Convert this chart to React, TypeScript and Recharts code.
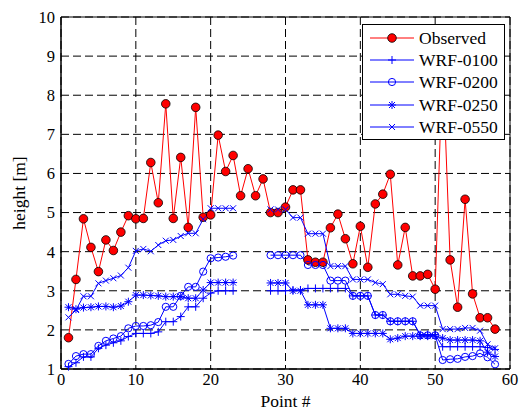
import React from 'react';
import { LineChart, Line, XAxis, YAxis, CartesianGrid, Legend, ReferenceArea } from 'recharts';

// point # 1..58 ; WRF runs have no values for points 24-27
const observed = [
  1.8, 3.29, 4.84, 4.11, 3.49, 4.3, 4.03, 4.5, 4.92, 4.84,
  4.85, 6.28, 5.25, 7.78, 4.85, 6.41, 4.62, 7.69, 4.88, 4.94,
  6.98, 6.05, 6.46, 5.43, 6.12, 5.43, 5.86, 5.0, 5.0, 5.14,
  5.58, 5.58, 3.79, 3.73, 3.73, 4.61, 4.96, 4.33, 3.69, 4.65,
  3.6, 5.22, 5.47, 5.98, 3.66, 4.62, 3.38, 3.38, 3.42, 3.04,
  8.9, 3.79, 2.58, 5.34, 2.92, 2.31, 2.31, 2.02,
];
const wrf0100 = [
  1.06, 1.16, 1.31, 1.31, 1.53, 1.61, 1.67, 1.72, 1.83, 1.91,
  1.91, 1.91, 1.95, 2.21, 2.21, 2.34, 2.59, 2.59, 2.81, 2.94,
  3.0, 3.0, 3.0, null, null, null, null, 3.0, 3.0, 3.0,
  3.02, 3.02, 3.06, 3.06, 3.06, 3.06, 3.06, 3.06, 2.87, 2.87,
  2.87, 2.38, 2.38, 2.22, 2.22, 2.22, 2.22, 1.88, 1.88, 1.88,
  1.57, 1.57, 1.57, 1.57, 1.57, 1.57, 1.55, 1.5,
];
const wrf0200 = [
  1.13, 1.33, 1.38, 1.38, 1.59, 1.72, 1.78, 1.84, 2.04, 2.1,
  2.1, 2.12, 2.2, 2.59, 2.59, 2.87, 3.1, 3.1, 3.49, 3.83,
  3.85, 3.87, 3.9, null, null, null, null, 3.91, 3.91, 3.91,
  3.91, 3.91, 3.66, 3.66, 3.66, 3.26, 3.26, 3.26, 2.87, 2.87,
  2.87, 2.38, 2.38, 2.22, 2.22, 2.22, 2.22, 1.86, 1.86, 1.86,
  1.23, 1.25, 1.26, 1.31, 1.33, 1.4, 1.3, 1.12,
];
const wrf0250 = [
  2.58, 2.53, 2.57, 2.58, 2.6, 2.6, 2.58, 2.61, 2.72, 2.89,
  2.89, 2.88, 2.87, 2.85, 2.85, 2.85, 2.81, 2.81, 3.02, 3.21,
  3.21, 3.21, 3.21, null, null, null, null, 3.2, 3.2, 3.2,
  3.0, 3.0, 2.64, 2.64, 2.64, 2.04, 2.04, 2.04, 1.91, 1.91,
  1.91, 1.91, 1.91, 1.76, 1.79, 1.84, 1.84, 1.84, 1.84, 1.84,
  1.79, 1.74, 1.74, 1.74, 1.74, 1.72, 1.43, 1.32,
];
const wrf0550 = [
  2.32, 2.51, 2.86, 2.86, 3.19, 3.26, 3.32, 3.39, 3.59, 4.02,
  4.07, 4.01, 4.17, 4.28, 4.3, 4.4, 4.47, 4.47, 4.83, 5.11,
  5.11, 5.11, 5.11, null, null, null, null, 5.08, 5.08, 5.08,
  4.87, 4.87, 4.46, 4.46, 4.46, 3.63, 3.63, 3.63, 3.29, 3.29,
  3.29, 3.21, 3.17, 2.91, 2.91, 2.87, 2.85, 2.62, 2.62, 2.62,
  2.02, 2.02, 2.02, 2.05, 2.05, 1.98, 1.63, 1.53,
];

const xTicks = [0, 10, 20, 30, 40, 50, 60];
const yTicks = [1, 2, 3, 4, 5, 6, 7, 8, 9, 10];

const data = observed.map((v, i) => ({
  point: i + 1,
  observed: v,
  w0100: wrf0100[i],
  w0200: wrf0200[i],
  w0250: wrf0250[i],
  w0550: wrf0550[i],
}));

const FONT = '"Liberation Serif", "Times New Roman", serif';
const RED = '#ff0000';
const BLUE = '#0000ff';

const series = [
  { key: 'observed', name: 'Observed', kind: 'dot', color: RED },
  { key: 'w0100', name: 'WRF-0100', kind: 'plus', color: BLUE },
  { key: 'w0200', name: 'WRF-0200', kind: 'circle', color: BLUE },
  { key: 'w0250', name: 'WRF-0250', kind: 'star', color: BLUE },
  { key: 'w0550', name: 'WRF-0550', kind: 'cross', color: BLUE },
];

function Marker({ kind, cx, cy, color }: any) {
  if (kind === 'dot') {
    return <circle cx={cx} cy={cy} r={4.3} fill={color} stroke="#000" strokeWidth={0.8} />;
  }
  if (kind === 'circle') {
    return <circle cx={cx} cy={cy} r={3.6} fill="none" stroke={color} strokeWidth={1} />;
  }
  const s = 4;
  const c = 3;
  const plus = (
    <>
      <line x1={cx - s} x2={cx + s} y1={cy} y2={cy} stroke={color} />
      <line x1={cx} x2={cx} y1={cy - s} y2={cy + s} stroke={color} />
    </>
  );
  const cross = (
    <>
      <line x1={cx - c} x2={cx + c} y1={cy - c} y2={cy + c} stroke={color} />
      <line x1={cx - c} x2={cx + c} y1={cy + c} y2={cy - c} stroke={color} />
    </>
  );
  if (kind === 'plus') return <g>{plus}</g>;
  if (kind === 'cross') return <g>{cross}</g>;
  return <g>{plus}{cross}</g>;
}

const makeDot = (kind: string, color: string) => (p: any) => {
  if (p.cx == null || p.cy == null || p.value == null || (Array.isArray(p.value) && p.value[1] == null)) {
    return <g key={`${kind}-${p.index}`} />;
  }
  return (
    <g key={`${kind}-${p.index}`}>
      <Marker kind={kind} cx={p.cx} cy={p.cy} color={color} />
    </g>
  );
};

const LegendBox = () => (
  <div
    style={{
      width: 141,
      height: 112,
      paddingTop: 2,
      border: '1.2px solid #000',
      background: '#fff',
      fontFamily: FONT,
      fontSize: 17.5,
      color: '#000',
    }}
  >
    {series.map((s) => (
      <div key={s.key} style={{ display: 'flex', alignItems: 'center', height: 22.2 }}>
        <svg width={56} height={22} style={{ flex: 'none' }}>
          <line x1={7} x2={51} y1={11} y2={11} stroke={s.color} strokeWidth={1} />
          <Marker kind={s.kind} cx={29} cy={11} color={s.color} />
        </svg>
        <span style={{ lineHeight: '22px' }}>{s.name}</span>
      </div>
    ))}
  </div>
);

const YLabel = ({ viewBox }: any) => {
  const x = viewBox.x + 19;
  const y = viewBox.y + viewBox.height / 2;
  return (
    <text x={x} y={y} transform={`rotate(-90 ${x} ${y})`} textAnchor="middle" dominantBaseline="central"
      fill="#000" fontSize={17.5} style={{ fontFamily: FONT }}>
      height [m]
    </text>
  );
};

export default function App() {
  return (
    <div style={{ position: 'absolute', left: 0, top: 0, background: '#fff', fontFamily: FONT }}>
      <LineChart
        width={523}
        height={412}
        data={data}
        margin={{ top: 17, right: 13, left: 0, bottom: 0 }}
        style={{ fontFamily: FONT }}
      >
        <CartesianGrid stroke="#000" strokeDasharray="8 4" strokeWidth={1} />
        <XAxis
          dataKey="point"
          type="number"
          domain={[0, 60]}
          ticks={xTicks}
          interval={0}
          height={43}
          tickLine={false}
          tickSize={0}
          tickMargin={4}
          axisLine={{ stroke: '#000' }}
          tick={{ fill: '#000', fontSize: 16.5, style: { fontFamily: FONT } }}
          label={{ value: 'Point #', position: 'insideBottom', offset: 5, fill: '#000', fontSize: 17.5, style: { fontFamily: FONT } }}
        />
        <YAxis
          type="number"
          domain={[1, 10]}
          ticks={yTicks}
          interval={0}
          width={61}
          tickLine={false}
          tickSize={0}
          tickMargin={6}
          axisLine={{ stroke: '#000' }}
          tick={{ fill: '#000', fontSize: 16.5, style: { fontFamily: FONT } }}
          label={<YLabel />}
        />
        <ReferenceArea x1={0} x2={60} y1={1} y2={10} fill="none" stroke="#000" strokeWidth={1} ifOverflow="visible" />
        {series.map((s) => (
          <Line
            key={s.key}
            dataKey={s.key}
            name={s.name}
            type="linear"
            stroke={s.color}
            strokeWidth={1}
            dot={makeDot(s.kind, s.color)}
            activeDot={false}
            isAnimationActive={false}
          />
        ))}
        <Legend
          layout="vertical"
          align="center"
          verticalAlign="middle"
          content={<LegendBox />}
          wrapperStyle={{ left: 362, top: 24, width: 'auto', height: 'auto' }}
        />
      </LineChart>
    </div>
  );
}
